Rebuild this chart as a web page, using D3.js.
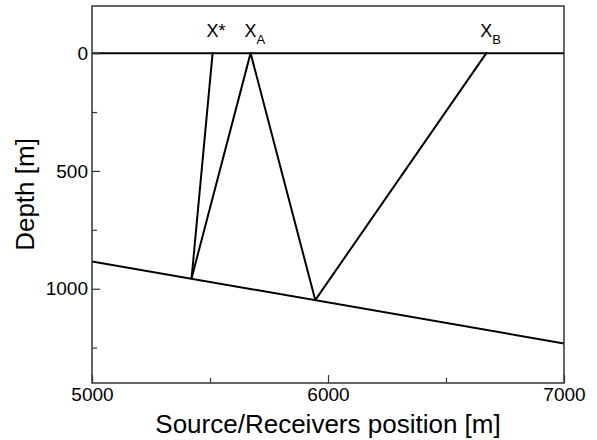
<!DOCTYPE html>
<html>
<head>
<meta charset="utf-8">
<script src="https://cdn.jsdelivr.net/npm/d3@7"></script>
<style>
  html, body { margin: 0; padding: 0; background: #fff; }
  svg text { font-family: Arial, "Liberation Sans", sans-serif; fill: #000; }
</style>
</head>
<body>
<svg id="chart" width="597" height="440"></svg>
<script>
// Surface positions of the receivers, metres
const receiverNames = ['X', 'X', 'X'];
const receiverSubs = ['*', 'A', 'B'];
const receiverX = [5511, 5672, 6671];

// Dipping reflector, sampled at its two ends
const reflectorX = [5000, 7000];
const reflectorDepth = [884, 1232];

// Ray paths: each is [x0, z0, x1, z1]
const rays = [
  [5511, 0, 5422, 955],
  [5672, 0, 5422, 955],
  [5672, 0, 5946, 1048],
  [6671, 0, 5946, 1048]
];

const xMajor = [5000, 6000, 7000];
const xMinor = [5500, 6500];
const yMajor = [0, 500, 1000];
const yMinor = [250, 750, 1250];

const W = 597, H = 440;
const m = { left: 92, right: 33, top: 6, bottom: 57 };

const svg = d3.select('#chart');
const x = d3.scaleLinear().domain([5000, 7000]).range([m.left, W - m.right]);
const y = d3.scaleLinear().domain([-200, 1400]).range([m.top, H - m.bottom]);

const g = svg.append('g');

// clip to plot area
svg.append('defs').append('clipPath').attr('id', 'clip')
  .append('rect')
  .attr('x', m.left).attr('y', m.top)
  .attr('width', W - m.left - m.right).attr('height', H - m.top - m.bottom);

const plot = g.append('g').attr('clip-path', 'url(#clip)');

// surface (depth 0)
plot.append('line')
  .attr('x1', x(5000)).attr('x2', x(7000))
  .attr('y1', y(0)).attr('y2', y(0))
  .attr('stroke', '#000').attr('stroke-width', 2);

// reflector
const line = d3.line().x(d => x(d[0])).y(d => y(d[1]));
plot.append('path')
  .datum(reflectorX.map((v, i) => [v, reflectorDepth[i]]))
  .attr('d', line)
  .attr('fill', 'none').attr('stroke', '#000').attr('stroke-width', 2);

// rays
plot.selectAll('.ray').data(rays).join('line')
  .attr('class', 'ray')
  .attr('x1', d => x(d[0])).attr('y1', d => y(d[1]))
  .attr('x2', d => x(d[2])).attr('y2', d => y(d[3]))
  .attr('stroke', '#000').attr('stroke-width', 2)
  .attr('stroke-linecap', 'round');

// axes with inward ticks
const axisB = d3.axisBottom(x).tickValues(xMajor).tickSize(-8).tickPadding(5).tickFormat(d3.format('d'));
const axisL = d3.axisLeft(y).tickValues(yMajor).tickSize(-8).tickPadding(4).tickFormat(d3.format('d'));

g.append('g').attr('transform', `translate(0,${H - m.bottom})`).call(axisB);
g.append('g').attr('transform', `translate(${m.left},0)`).call(axisL);
g.append('g').attr('transform', `translate(0,${H - m.bottom})`)
  .call(d3.axisBottom(x).tickValues(xMinor).tickSize(-5).tickFormat(''));
g.append('g').attr('transform', `translate(${m.left},0)`)
  .call(d3.axisLeft(y).tickValues(yMinor).tickSize(-5).tickFormat(''));

g.selectAll('.domain').remove();
g.selectAll('.tick line').attr('stroke', '#333').attr('stroke-width', 1.2);
g.selectAll('.tick text').attr('font-size', 19).attr('font-family', 'Arial, "Liberation Sans", sans-serif');

// frame
g.append('rect')
  .attr('x', m.left).attr('y', m.top)
  .attr('width', W - m.left - m.right).attr('height', H - m.top - m.bottom)
  .attr('fill', 'none').attr('stroke', '#333').attr('stroke-width', 1.5);

// receiver labels
receiverX.forEach((v, i) => {
  const t = g.append('text')
    .attr('x', x(v) - 6).attr('y', 37)
    .attr('font-size', 18);
  t.append('tspan').text(receiverNames[i]);
  if (receiverSubs[i] === '*') {
    t.append('tspan').text('*');
  } else {
    t.append('tspan').attr('dy', 7).attr('font-size', 13).text(receiverSubs[i]);
  }
});

// axis titles
g.append('text')
  .attr('x', (m.left + W - m.right) / 2).attr('y', 433)
  .attr('text-anchor', 'middle').attr('font-size', 26)
  .text('Source/Receivers position [m]');
g.append('text')
  .attr('transform', `translate(34,${(m.top + H - m.bottom) / 2}) rotate(-90)`)
  .attr('text-anchor', 'middle').attr('font-size', 26)
  .text('Depth [m]');
</script>
</body>
</html>
